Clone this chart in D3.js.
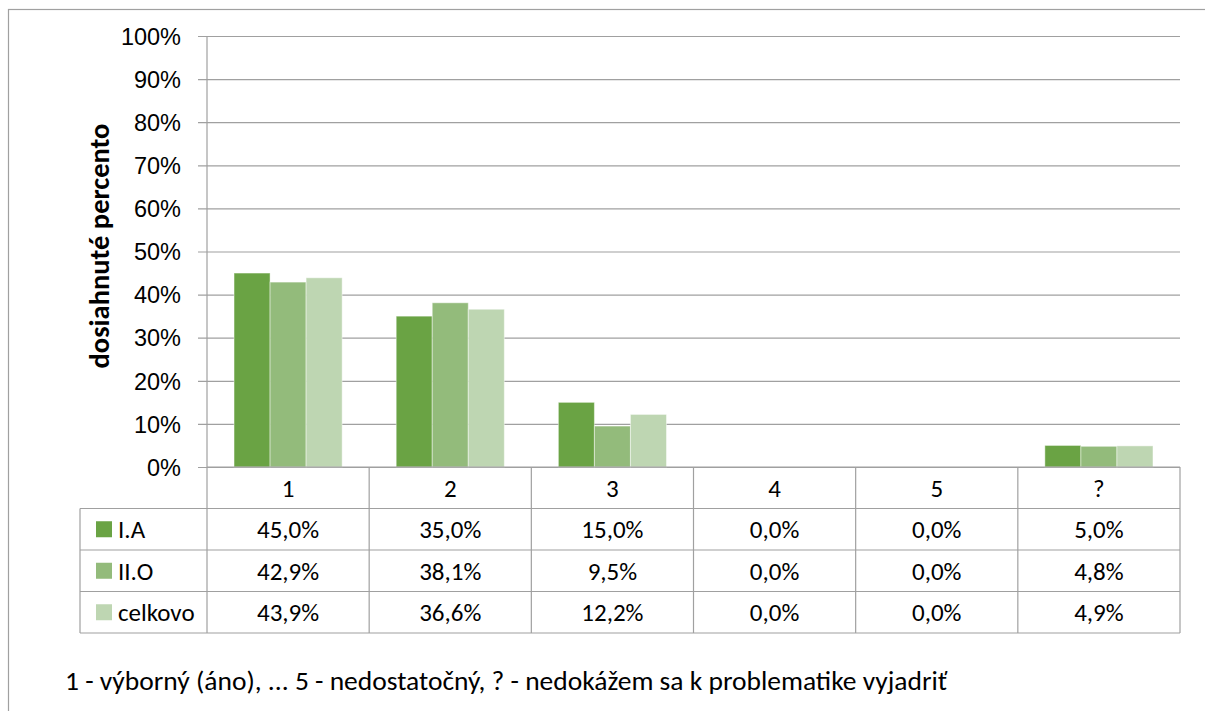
<!DOCTYPE html>
<html>
<head>
<meta charset="utf-8">
<script src="https://cdn.jsdelivr.net/npm/d3@7"></script>
<style>
  body { margin: 0; background: #fff; }
  svg { font-family: Carlito, Calibri, Lato, "Open Sans", sans-serif; }
  .grid line { stroke: #a0a0a0; stroke-width: 1.2; }
  .tbl line { stroke: #a0a0a0; stroke-width: 1.2; }
</style>
</head>
<body>
<script>
// Chart data
var categories = ["1", "2", "3", "4", "5", "?"];
var seriesNames = ["I.A", "II.O", "celkovo"];
var seriesIA = [45.0, 35.0, 15.0, 0.0, 0.0, 5.0];
var seriesIIO = [42.9, 38.1, 9.5, 0.0, 0.0, 4.8];
var seriesCelkovo = [43.9, 36.6, 12.2, 0.0, 0.0, 4.9];
var yTicks = [0, 10, 20, 30, 40, 50, 60, 70, 80, 90, 100];
var colors = ["#6aa344", "#93bb7b", "#bed6b2"];
var footnote = "1 - výborný (áno), ... 5 - nedostatočný, ? - nedokážem sa k problematike vyjadriť";

var allSeries = [seriesIA, seriesIIO, seriesCelkovo];

var svgWidth = 1205;
var svgHeight = 711;
var plot = { left: 207, right: 1180, top: 36, bottom: 467 };
var rowH = 41.5;
var tableLeft = 80;
var fs = "25px";

var svg = d3.select("body")
  .append("svg")
  .attr("width", svgWidth)
  .attr("height", svgHeight);

// outer chart frame (runs past the window edge)
svg.append("rect")
  .attr("x", 8.5).attr("y", 9.5)
  .attr("width", 1220).attr("height", 720)
  .attr("fill", "none")
  .attr("stroke", "#a0a0a0")
  .attr("stroke-width", 1.2);

var x0 = d3.scaleBand()
  .domain(categories)
  .range([plot.left, plot.right]);

var x1 = d3.scaleBand()
  .domain(seriesNames)
  .range([0, x0.bandwidth()])
  .paddingOuter(0.75);

var y = d3.scaleLinear()
  .domain([0, 100])
  .range([plot.bottom, plot.top]);

var pct = d3.formatLocale({ decimal: ",", thousands: " ", grouping: [3], currency: ["", "€"] }).format(".1f");

// gridlines + y axis labels
var leftAxis = d3.axisLeft(y)
  .tickValues(yTicks)
  .tickSize(plot.right - plot.left + 9)
  .tickFormat(d => d + "%");

var gy = svg.append("g")
  .attr("class", "grid")
  .attr("transform", `translate(${plot.right}, 0)`)
  .call(leftAxis);
gy.select(".domain").remove();
gy.selectAll("text")
  .attr("x", -(plot.right - plot.left + 9) - 17)
  .attr("dy", "0.35em")
  .attr("fill", "#000")
  .style("font-size", "23.5px");

// vertical axis line
svg.append("line")
  .attr("x1", plot.left).attr("x2", plot.left)
  .attr("y1", plot.top).attr("y2", plot.bottom)
  .attr("stroke", "#a0a0a0").attr("stroke-width", 1.2);

// y axis title
svg.append("text")
  .attr("transform", `translate(109, 246) rotate(-90)`)
  .attr("text-anchor", "middle")
  .style("font-size", "28.5px")
  .style("font-weight", "bold")
  .text("dosiahnuté percento");

// bars
var groups = svg.selectAll(".cat")
  .data(categories)
  .enter()
  .append("g")
  .attr("transform", d => `translate(${x0(d)}, 0)`);

groups.selectAll("rect")
  .data((c, i) => seriesNames.map((s, j) => ({ s: s, j: j, v: allSeries[j][i] })))
  .enter()
  .append("rect")
  .attr("x", d => x1(d.s))
  .attr("y", d => y(d.v))
  .attr("width", x1.bandwidth())
  .attr("height", d => plot.bottom - y(d.v))
  .attr("fill", d => colors[d.j])
  .attr("stroke", "rgba(255,255,255,0.45)")
  .attr("stroke-width", 1);

// data table
var tbl = svg.append("g").attr("class", "tbl");
var tableBottom = plot.bottom + rowH * 4;

// horizontal lines
tbl.append("line")
  .attr("x1", plot.left).attr("x2", plot.right)
  .attr("y1", plot.bottom).attr("y2", plot.bottom);
[1, 2, 3, 4].forEach(function(r) {
  tbl.append("line")
    .attr("x1", tableLeft).attr("x2", plot.right)
    .attr("y1", plot.bottom + rowH * r).attr("y2", plot.bottom + rowH * r);
});
// vertical lines
tbl.append("line")
  .attr("x1", tableLeft).attr("x2", tableLeft)
  .attr("y1", plot.bottom + rowH).attr("y2", tableBottom);
categories.forEach(function(c) {
  tbl.append("line")
    .attr("x1", x0(c)).attr("x2", x0(c))
    .attr("y1", plot.bottom).attr("y2", tableBottom);
});
tbl.append("line")
  .attr("x1", plot.right).attr("x2", plot.right)
  .attr("y1", plot.bottom).attr("y2", tableBottom);

// header (category) labels
tbl.selectAll(".hdr")
  .data(categories)
  .enter()
  .append("text")
  .attr("x", d => x0(d) + x0.bandwidth() / 2)
  .attr("y", plot.bottom + rowH / 2)
  .attr("dy", "0.35em")
  .attr("text-anchor", "middle")
  .style("font-size", fs)
  .text(d => d);

// legend keys + values
seriesNames.forEach(function(s, j) {
  var cy = plot.bottom + rowH * (j + 1) + rowH / 2;
  tbl.append("rect")
    .attr("x", 96).attr("y", cy - 8)
    .attr("width", 16).attr("height", 16)
    .attr("fill", colors[j]);
  tbl.append("text")
    .attr("x", 118).attr("y", cy)
    .attr("dy", "0.35em")
    .style("font-size", fs)
    .text(s);
  tbl.selectAll(".v" + j)
    .data(allSeries[j])
    .enter()
    .append("text")
    .attr("x", (d, i) => x0(categories[i]) + x0.bandwidth() / 2)
    .attr("y", cy)
    .attr("dy", "0.35em")
    .attr("text-anchor", "middle")
    .style("font-size", fs)
    .text(d => pct(d) + "%");
});

// footnote
svg.append("text")
  .attr("x", 65).attr("y", 690)
  .style("font-size", "27.5px")
  .text(footnote);
</script>
</body>
</html>
